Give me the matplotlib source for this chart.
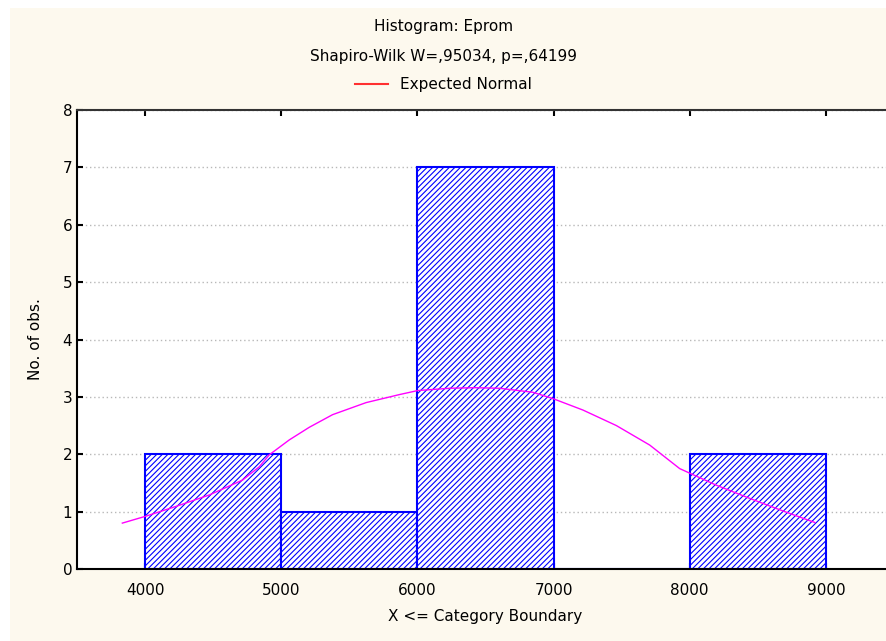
import matplotlib.pyplot as plt
from matplotlib.lines import Line2D
from matplotlib.patches import Rectangle

# Category boundaries and counts per class
bin_edges = [4000, 5000, 6000, 7000, 8000, 9000]
counts = [2, 1, 7, 0, 2]

# Expected normal curve, sampled
curve_x = [3833, 4005, 4226, 4471, 4716, 4838, 4912, 5059, 5206, 5377, 5623,
           5868, 6002, 6235, 6420, 6603, 6848, 6995, 7216, 7461, 7706, 7926,
           8000, 8196, 8441, 8686, 8919]
curve_y = [0.80, 0.92, 1.09, 1.29, 1.55, 1.78, 1.99, 2.25, 2.47, 2.69, 2.90,
           3.04, 3.11, 3.15, 3.16, 3.15, 3.08, 2.97, 2.77, 2.50, 2.16, 1.75,
           1.67, 1.46, 1.23, 1.01, 0.81]

x_ticks = [4000, 5000, 6000, 7000, 8000, 9000]
y_ticks = [0, 1, 2, 3, 4, 5, 6, 7, 8]

cream = '#fdf9ee'
W, H = 887, 641

plt.rcParams['hatch.color'] = '#2020ff'
plt.rcParams['hatch.linewidth'] = 0.8

fig = plt.figure(figsize=(W / 100, H / 100), dpi=100, facecolor='white')
fig.patches.append(Rectangle((10 / W, 0), 1, 1 - 8 / H, transform=fig.transFigure,
                             facecolor=cream, edgecolor='none', zorder=-10))

ax = fig.add_axes([77 / W, 1 - 569 / H, (894 - 77) / W, (569 - 110) / H])
ax.set_facecolor('white')

widths = [b - a for a, b in zip(bin_edges[:-1], bin_edges[1:])]
ax.bar(bin_edges[:-1], counts, width=widths, align='edge', color='white',
       edgecolor='#0000ff', hatch='//////', linewidth=1.5, zorder=2)

ax.plot(curve_x, curve_y, color='#ff00ff', linewidth=1.0, zorder=3)

ax.set_xlim(3500, 9500)
ax.set_ylim(0, 8)
ax.set_xticks(x_ticks)
ax.set_yticks(y_ticks)
ax.yaxis.grid(True, linestyle=(0, (1, 2)), color='#b8b8b8', linewidth=1.0)
ax.set_axisbelow(True)
ax.tick_params(direction='in', length=4, width=1.5, labelsize=11, colors='black',
               top=True, right=False)
ax.tick_params(axis='x', pad=10)
for s in ['left', 'bottom', 'top']:
    ax.spines[s].set_linewidth(1.5)
ax.spines['top'].set_color('#333333')
ax.spines['right'].set_visible(False)

ax.set_xlabel('X <= Category Boundary', fontsize=11, labelpad=8)
ax.set_ylabel('No. of obs.', fontsize=11, labelpad=14)

fig.text(0.5, 1 - 27 / H, 'Histogram: Eprom', ha='center', va='center', fontsize=11)
fig.text(0.5, 1 - 56 / H, 'Shapiro-Wilk W=,95034, p=,64199', ha='center',
         va='center', fontsize=11)
fig.legend(handles=[Line2D([], [], color='#ff3030', linewidth=1.5)],
           labels=['Expected Normal'], loc='center',
           bbox_to_anchor=(0.5, 1 - 85 / H), frameon=False, fontsize=11,
           handlelength=2.2)

fig.savefig('out.png', dpi=100, facecolor=fig.get_facecolor())
